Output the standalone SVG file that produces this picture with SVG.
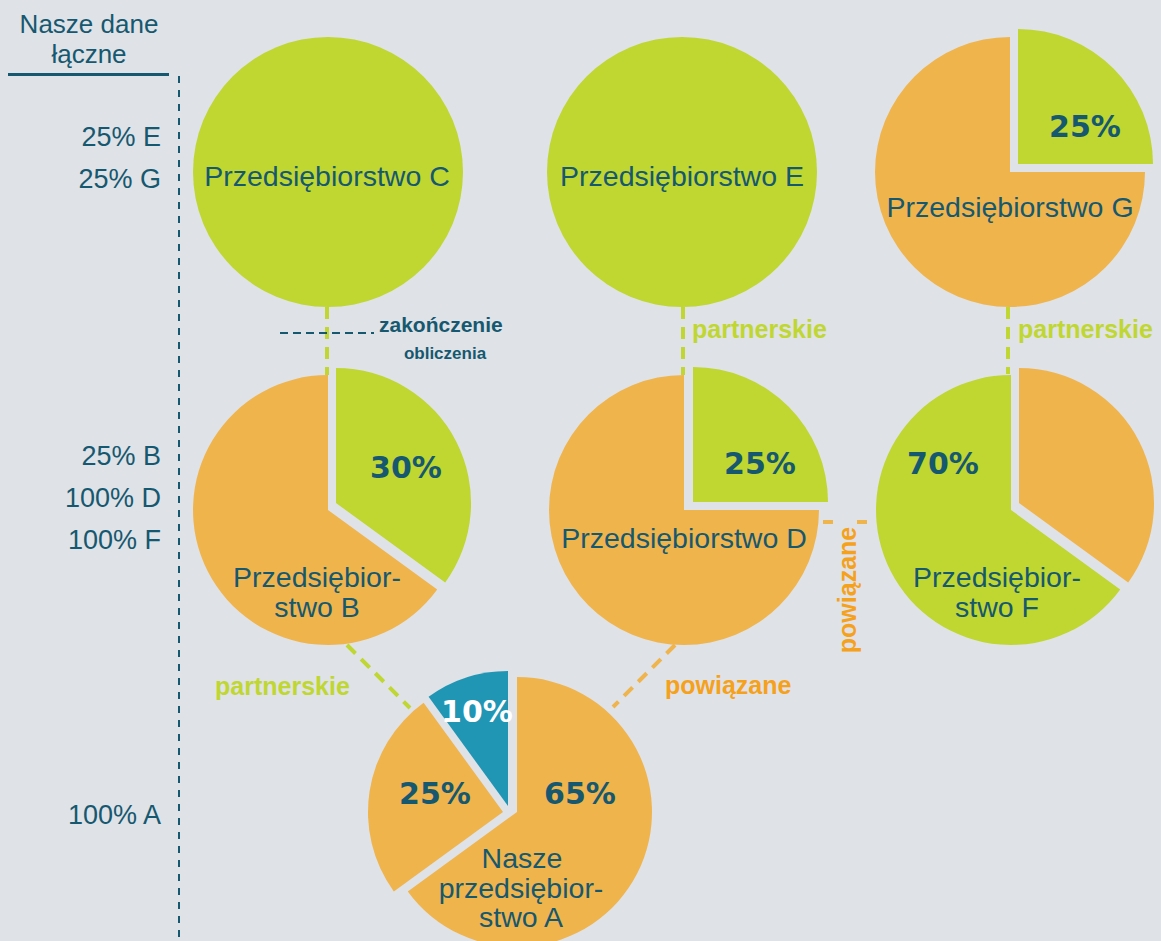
<svg xmlns="http://www.w3.org/2000/svg" width="1161" height="941" viewBox="0 0 1161 941">
<style>
.lbl{font-family:"Liberation Sans",Arial,sans-serif;fill:#16586f;}
.node{font-size:28.5px;text-anchor:middle;}
.side{font-size:27px;text-anchor:end;}
.pct{font-family:"DejaVu Sans",sans-serif;font-weight:bold;font-size:30px;fill:#16586f;text-anchor:middle;}
.rel{font-family:"Liberation Sans",Arial,sans-serif;font-weight:bold;font-size:25px;}
.g{fill:#bfd730;}
.o{fill:#f0b44c;}
.b{fill:#2196b4;}
.dg{stroke:#bfd730;stroke-width:4;stroke-dasharray:12 8;fill:none;}
.do{stroke:#f0b44c;stroke-width:4;stroke-dasharray:12 8;fill:none;}
</style>
<rect width="1161" height="941" fill="#dfe2e7"/>
<g id="header">
<text class="lbl" x="89" y="33" font-size="26" text-anchor="middle">Nasze dane</text>
<text class="lbl" x="89" y="63" font-size="26" text-anchor="middle">łączne</text>
<rect x="8" y="73" width="161" height="3" fill="#16586f"/>
<line x1="179" y1="76" x2="179" y2="941" stroke="#16586f" stroke-width="2" stroke-dasharray="7 7"/>
</g>
<g id="side-labels">
<text class="lbl side" x="161" y="146">25% E</text>
<text class="lbl side" x="161" y="188">25% G</text>
<text class="lbl side" x="161" y="465">25% B</text>
<text class="lbl side" x="161" y="507">100% D</text>
<text class="lbl side" x="161" y="549">100% F</text>
<text class="lbl side" x="161" y="824">100% A</text>
</g>
<g id="connectors">
<line class="dg" x1="327" y1="307" x2="327" y2="375"/>
<line class="dg" x1="683" y1="307" x2="683" y2="375"/>
<line class="dg" x1="1008" y1="307" x2="1008" y2="374"/>
<line class="dg" x1="347" y1="645" x2="410" y2="708"/>
<line class="do" x1="675" y1="645" x2="613" y2="707"/>
<line x1="823" y1="522" x2="876" y2="522" stroke="#f0b44c" stroke-width="4" stroke-dasharray="10 24"/>
<line x1="280" y1="333" x2="374" y2="333" stroke="#16586f" stroke-width="2" stroke-dasharray="8 5"/>
<text class="lbl" x="379" y="332" font-size="21" font-weight="bold">zakończenie</text>
<text class="lbl" x="445" y="359" font-size="17" font-weight="bold" text-anchor="middle">obliczenia</text>
<text class="rel g" x="692" y="338">partnerskie</text>
<text class="rel g" x="1018" y="338">partnerskie</text>
<text class="rel g" x="215" y="695">partnerskie</text>
<text class="rel" x="665" y="694" fill="#f6a11b">powiązane</text>
<text class="rel" x="0" y="0" fill="#f6a11b" text-anchor="middle" transform="translate(856 590) rotate(-90)">powiązane</text>
</g>
<g id="node-C">
<circle class="g" cx="328" cy="172" r="135"/>
<text class="lbl node" x="327" y="186">Przedsiębiorstwo C</text>
</g>
<g id="node-E">
<circle class="g" cx="682" cy="172" r="135"/>
<text class="lbl node" x="682" y="186">Przedsiębiorstwo E</text>
</g>
<g id="node-G">
<path class="o" d="M1010,172 L1145,172 A135,135 0 1 1 1010,37 Z"/>
<path class="g" d="M1018,164 L1018,29 A135,135 0 0 1 1153,164 Z"/>
<text class="pct" x="1085" y="137">25%</text>
<text class="lbl node" x="1010" y="217">Przedsiębiorstwo G</text>
</g>
<g id="node-B">
<path class="o" d="M328,510 L437.2,589.4 A135,135 0 1 1 328,375 Z"/>
<path class="g" d="M336,503 L336,368 A135,135 0 0 1 445.2,582.4 Z"/>
<text class="pct" x="406" y="478">30%</text>
<text class="lbl node" x="317" y="587">Przedsiębior-</text>
<text class="lbl node" x="317" y="617">stwo B</text>
</g>
<g id="node-D">
<path class="o" d="M684,510 L819,510 A135,135 0 1 1 684,375 Z"/>
<path class="g" d="M693,502 L693,367 A135,135 0 0 1 828,502 Z"/>
<text class="pct" x="760" y="474">25%</text>
<text class="lbl node" x="684" y="548">Przedsiębiorstwo D</text>
</g>
<g id="node-F">
<path class="g" d="M1011,510 L1120.2,589.4 A135,135 0 1 1 1011,375 Z"/>
<path class="o" d="M1019,503 L1019,368 A135,135 0 0 1 1128.2,582.4 Z"/>
<text class="pct" x="943" y="474">70%</text>
<text class="lbl node" x="997" y="587">Przedsiębior-</text>
<text class="lbl node" x="997" y="617">stwo F</text>
</g>
<g id="node-A">
<path class="o" d="M517,812 L517,677 A135,135 0 1 1 407.8,891.4 Z"/>
<path class="o" d="M503,812 L393.8,891.4 A135,135 0 0 1 423.6,702.8 Z"/>
<path class="b" d="M508,806 L428.6,696.8 A135,135 0 0 1 508,671 Z"/>
<text class="pct" x="477" y="722" fill="#ffffff" style="fill:#ffffff">10%</text>
<text class="pct" x="435" y="804">25%</text>
<text class="pct" x="580" y="804">65%</text>
<text class="lbl node" x="522" y="868">Nasze</text>
<text class="lbl node" x="521" y="898">przedsiębior-</text>
<text class="lbl node" x="521" y="927">stwo A</text>
</g>
</svg>
